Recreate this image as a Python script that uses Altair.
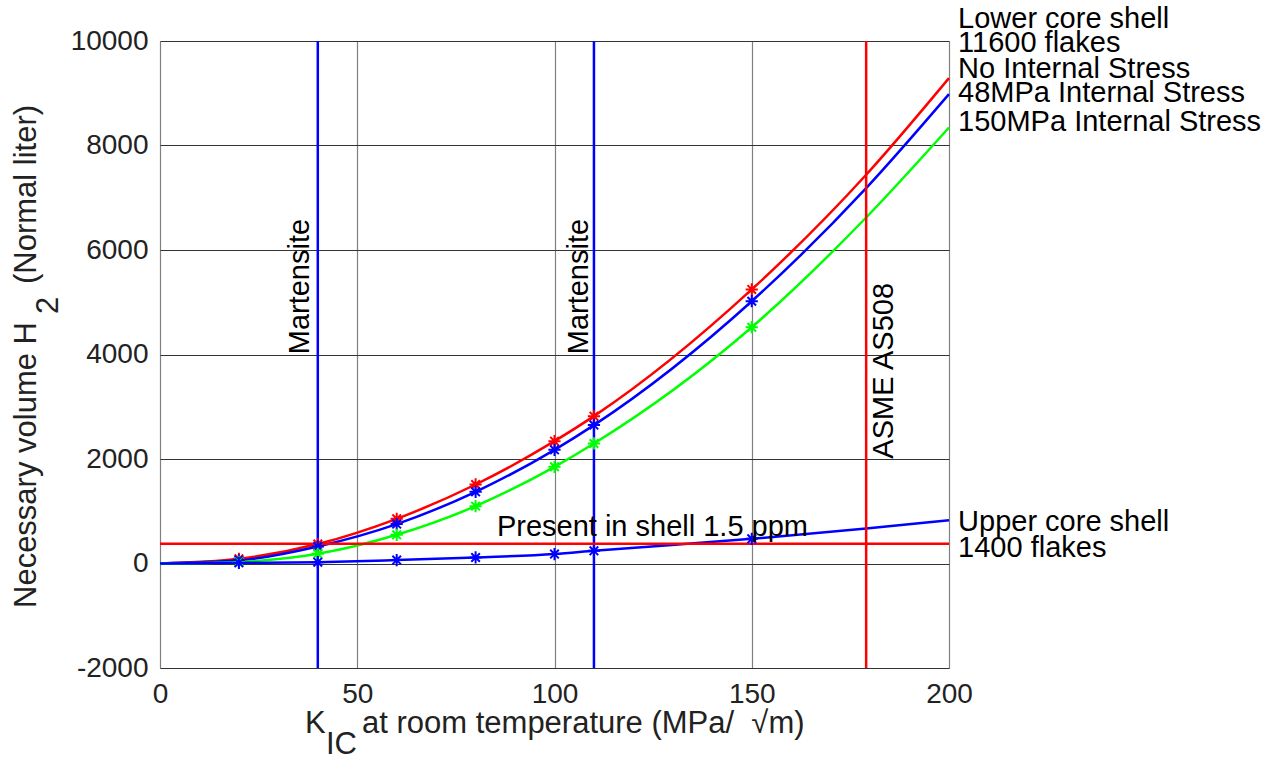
import altair as alt
import pandas as pd

# ---- data ----
k_points = [0, 20, 40, 60, 80, 100, 110, 150, 179, 200]
no_stress = [0, 90, 372, 855, 1512, 2341, 2820, 5245, 7440, 9290]
stress_48 = [0, 60, 326, 754, 1372, 2176, 2649, 5020, 7185, 8984]
stress_150 = [0, 30, 185, 549, 1098, 1851, 2297, 4522, 6622, 8345]
upper_core = [0, 12, 25, 65, 115, 180, 243, 472, 670, 826]
marker_k = [20, 40, 60, 80, 100, 110, 150]

series_names = ["No Internal Stress", "48MPa", "150MPa", "Upper core"]
series_values = [no_stress, stress_48, stress_150, upper_core]
series_colors = ["#ff0000", "#0000ff", "#00ff00", "#0000ff"]

martensite_k = [40, 110]
asme_k = [179]
present_level = [378]

right_labels = ["Lower core shell", "11600 flakes", "No Internal Stress",
                "48MPa Internal Stress", "150MPa Internal Stress",
                "Upper core shell", "1400 flakes"]
right_label_y = [10258, 9780, 9290, 8823, 8268, 626, 128]

FONT = "Liberation Sans"
FS = 28      # tick labels
FA = 29      # annotations
FT = 31      # axis titles

rows = []
for name, vals in zip(series_names, series_values):
    for k, v in zip(k_points, vals):
        rows.append({"k": k, "v": v, "s": name, "m": k in marker_k})
df = pd.DataFrame(rows)
df_m = df[df["m"]]

xs = alt.Scale(domain=[0, 200], nice=False)
ys = alt.Scale(domain=[-2000, 10000], nice=False)
cs = alt.Scale(domain=series_names, range=series_colors)

X = alt.X("k:Q", scale=xs, axis=alt.Axis(values=[0, 50, 100, 150, 200], title=None,
          grid=True, gridColor="#808080", gridWidth=1.2, ticks=False, domain=False,
          labelFlush=False, labelExpr="'' + datum.value",
          labelPadding=12, labelFontSize=FS, labelFont=FONT, labelColor="#222"))
Y = alt.Y("v:Q", scale=ys, axis=alt.Axis(values=list(range(-2000, 10001, 2000)), title=None,
          grid=True, gridColor="#333333", gridWidth=1, ticks=False, domain=False,
          labelFlush=False, labelExpr="'' + datum.value",
          labelPadding=12, labelFontSize=FS, labelFont=FONT, labelColor="#222"))

lines = alt.Chart(df).mark_line(interpolate="monotone", strokeWidth=2.5).encode(
    x=X, y=Y, color=alt.Color("s:N", scale=cs, legend=None), detail="s:N")

star = "M-1,0L1,0M0,-1L0,1M-0.7,-0.7L0.7,0.7M-0.7,0.7L0.7,-0.7"
points = alt.Chart(df_m).mark_point(shape=star, filled=False, strokeWidth=2, size=150,
                                    opacity=1).encode(
    x="k:Q", y="v:Q", color=alt.Color("s:N", scale=cs, legend=None))

vrules = alt.Chart(pd.DataFrame({"k": martensite_k + asme_k,
                                 "c": ["#0000ff"] * len(martensite_k) + ["#ff0000"] * len(asme_k)})
                   ).mark_rule(strokeWidth=2.5).encode(x="k:Q", color=alt.Color("c:N", scale=None))
hrule = alt.Chart(pd.DataFrame({"v": present_level})).mark_rule(strokeWidth=2.5, color="#ff0000").encode(
    y="v:Q")

ann = pd.DataFrame({
    "k": [35.5, 106.2, 183.5],
    "v": [5300, 5300, 3688],
    "t": ["Martensite", "Martensite", "ASME AS508"],
})
vtexts = alt.Chart(ann).mark_text(angle=270, font=FONT, fontSize=FA, color="black",
                                  align="center", baseline="middle").encode(
    x="k:Q", y="v:Q", text="t:N")

present = alt.Chart(pd.DataFrame({"k": [85.4], "v": [530], "t": ["Present in shell 1.5 ppm"]})).mark_text(
    font=FONT, fontSize=FA, color="black", align="left", baseline="alphabetic").encode(
    x="k:Q", y="v:Q", text="t:N")

rl = alt.Chart(pd.DataFrame({"k": [202.3] * len(right_labels), "v": right_label_y, "t": right_labels})
               ).mark_text(font=FONT, fontSize=FA, color="black", align="left",
                           baseline="alphabetic").encode(x="k:Q", y="v:Q", text="t:N")

one = alt.Data(values=[{}])
def lbl(text, x, y, **kw):
    opts = dict(font=FONT, fontSize=FT, color="#222", baseline="alphabetic", align="left")
    opts.update(kw)
    return alt.Chart(one).mark_text(text=text, **opts).encode(x=alt.value(x), y=alt.value(y))

# title pieces (pixel positions relative to the plot area: left 160, top 41)
titles = [
    lbl("K", 305 - 160, 733 - 41),
    lbl("IC", 326 - 160, 754 - 41),
    lbl("at room temperature (MPa/\u00a0\u00a0\u221am)", 362 - 160, 733 - 41),
    lbl("Necessary volume H", 36 - 160, 608 - 41, angle=270),
    lbl("2", 58 - 160, 314 - 41, angle=270),
    lbl("(Normal liter)", 36 - 160, 284 - 41, angle=270),
]

chart = alt.layer(lines, vrules, hrule, points, vtexts, present, rl, *titles).properties(
    width=789, height=627,
    autosize=alt.AutoSizeParams(type="none"),
    padding={"left": 160, "top": 41, "right": 325, "bottom": 94},
).configure_view(stroke="black", strokeWidth=2.5).configure(background="white")

chart.save("out.html", embed_options={"renderer": "svg", "actions": False})
